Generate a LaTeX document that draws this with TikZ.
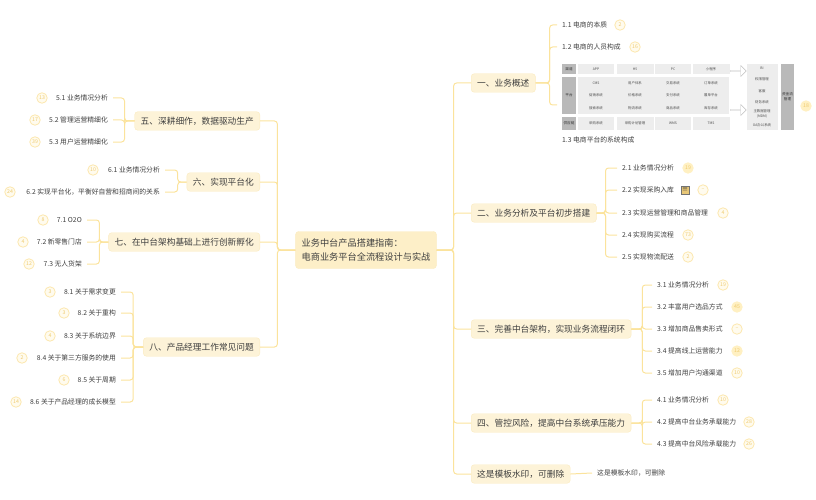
\documentclass[tikz,border=0pt]{standalone}
\usepackage{fontspec}
\setmainfont{Noto Sans CJK SC}
\usetikzlibrary{shapes.arrows}
\definecolor{linkcol}{HTML}{FBE39C}
\definecolor{boxfill}{HTML}{FDF3D8}
\definecolor{boxline}{HTML}{FBEBC0}
\definecolor{rootfill}{HTML}{FDEFC8}
\definecolor{inkcol}{HTML}{3E3E3E}
\definecolor{numcol}{HTML}{EFCB70}
\definecolor{ringcol}{HTML}{FCE7AE}
\definecolor{softfill}{HTML}{FFFBEE}
\definecolor{hotfill}{HTML}{FFF0C2}
\definecolor{notefill}{HTML}{E8C777}
\definecolor{cellfill}{HTML}{EDEDED}
\definecolor{barfill}{HTML}{B9B9B9}
\tikzset{
  every edge/.style={draw=linkcol,line width=1pt,rounded corners=3pt},
  elbow/.style={to path={-- ++(#1,0) |- (\tikztotarget)}},
  rootbox/.style={draw=boxline,fill=rootfill,rounded corners=3pt,align=left,text=inkcol,
    inner xsep=6pt,minimum height=37pt,font=\fontsize{9.2}{14}\selectfont},
  branch/.style={draw=boxline,fill=boxfill,rounded corners=3pt,text=inkcol,
    inner xsep=6pt,inner ysep=0pt,minimum height=18.5pt,font=\fontsize{8.7}{10}\selectfont},
  leafr/.style={anchor=west,text=inkcol,inner xsep=5pt,inner ysep=1pt,font=\fontsize{6.8}{8}\selectfont},
  leafl/.style={anchor=east,text=inkcol,inner xsep=5pt,inner ysep=1pt,font=\fontsize{6.8}{8}\selectfont},
  count/.style={circle,draw=ringcol,line width=0.8pt,fill=softfill,text=numcol,inner sep=0pt,minimum size=10.5pt,font=\fontsize{5.2}{5}\selectfont},
  hot/.style={fill=hotfill,draw=hotfill},
  cell/.style={fill=cellfill,text=black!70,inner sep=0pt,align=center,font=\fontsize{3.4}{5}\selectfont},
  graycell/.style={fill=barfill,text=black!80,inner sep=0pt,align=center,font=\fontsize{3.6}{5}\selectfont},
  plain/.style={text=black!70,inner sep=0pt,align=center,font=\fontsize{3.4}{5}\selectfont},
  hollow/.style={single arrow,draw=black!25,fill=white,minimum width=11pt,minimum height=16pt,
    single arrow head extend=2pt,inner sep=0pt},
}
\begin{document}
\begin{tikzpicture}[x=1pt,y=-1pt]

  \useasboundingbox (0,0) rectangle (816,500);

  \node[rootbox] (root) at (366,250) {业务中台产品搭建指南：\\电商业务平台全流程设计与实战};

  % branches
  \begin{scope}[every node/.style={branch}]
    \node[anchor=west] (b1) at (471,83)  {一、业务概述};
    \node[anchor=west] (b2) at (471,213) {二、业务分析及平台初步搭建};
    \node[anchor=west] (b3) at (471,329) {三、完善中台架构，实现业务流程闭环};
    \node[anchor=west] (b4) at (471,423) {四、管控风险，提高中台系统承压能力};
    \node[anchor=west] (b9) at (471,474) {这是模板水印，可删除};
    \node[anchor=east] (b5) at (260,121) {五、深耕细作，数据驱动生产};
    \node[anchor=east] (b6) at (260,182) {六、实现平台化};
    \node[anchor=east] (b7) at (260,242) {七、在中台架构基础上进行创新孵化};
    \node[anchor=east] (b8) at (260,347) {八、产品经理工作常见问题};
  \end{scope}

  % right leaves
  \begin{scope}[every node/.style={leafr}]
    \node (l11) at (557,25)  {1.1 电商的本质};
    \node (l12) at (557,47)  {1.2 电商的人员构成};
    \node (l21) at (617,168) {2.1 业务情况分析};
    \node (l22) at (617,190) {2.2 实现采购入库};
    \node (l23) at (617,213) {2.3 实现运营管理和商品管理};
    \node (l24) at (617,235) {2.4 实现购买流程};
    \node (l25) at (617,257) {2.5 实现物流配送};
    \node (l31) at (652,285) {3.1 业务情况分析};
    \node (l32) at (652,307) {3.2 丰富用户选品方式};
    \node (l33) at (652,329) {3.3 增加商品售卖形式};
    \node (l34) at (652,351) {3.4 提高线上运营能力};
    \node (l35) at (652,373) {3.5 增加用户沟通渠道};
    \node (l41) at (652,400) {4.1 业务情况分析};
    \node (l42) at (652,422) {4.2 提高中台业务承载能力};
    \node (l43) at (652,444) {4.3 提高中台风险承载能力};
    \node (l91) at (592,473) {这是模板水印，可删除};
  \end{scope}

  % left leaves
  \begin{scope}[every node/.style={leafl}]
    \node (l51) at (113,98)  {5.1 业务情况分析};
    \node (l52) at (113,120) {5.2 管理运营精细化};
    \node (l53) at (113,142) {5.3 用户运营精细化};
    \node (l61) at (165,170) {6.1 业务情况分析};
    \node (l62) at (165,192) {6.2 实现平台化，平衡好自营和招商间的关系};
    \node (l71) at (87,220)  {7.1 O2O};
    \node (l72) at (87,242)  {7.2 新零售门店};
    \node (l73) at (87,264)  {7.3 无人货架};
    \node (l81) at (121,292) {8.1 关于需求变更};
    \node (l82) at (121,313) {8.2 关于重构};
    \node (l83) at (121,336) {8.3 关于系统边界};
    \node (l84) at (121,358) {8.4 关于第三方服务的使用};
    \node (l85) at (121,380) {8.5 关于周期};
    \node (l86) at (121,402) {8.6 关于产品经理的成长模型};
  \end{scope}

  % counts
  \begin{scope}[every node/.style={count}]
    \node (n11) at (620,25)  {2};
    \node (n12) at (635,47)  {16};
    \node[hot] (n13) at (806,106) {18};
    \node[hot] (n21) at (688,168) {19};
    \node (n22) at (703,190) {--};
    \node (n23) at (723,213) {4};
    \node (n24) at (688,235) {73};
    \node (n25) at (688,257) {2};
    \node (n31) at (723,285) {19};
    \node[hot] (n32) at (737,307) {45};
    \node (n33) at (737,329) {--};
    \node[hot] (n34) at (737,351) {12};
    \node (n35) at (737,373) {10};
    \node (n41) at (723,400) {10};
    \node (n42) at (749,422) {28};
    \node (n43) at (749,444) {26};
    \node (n51) at (42,98)   {13};
    \node (n52) at (35,120)  {17};
    \node (n53) at (35,142)  {39};
    \node (n61) at (93,170)  {10};
    \node (n62) at (10,192)  {24};
    \node (n71) at (43,220)  {8};
    \node (n72) at (23,242)  {4};
    \node (n73) at (29,264)  {12};
    \node (n81) at (50,292)  {3};
    \node (n82) at (64,313)  {3};
    \node (n83) at (50,336)  {4};
    \node (n84) at (22,358)  {2};
    \node (n85) at (64,380)  {6};
    \node (n86) at (16,402)  {14};
  \end{scope}

  % note icon
  \node[draw=black!55,fill=notefill,text=black!80,inner sep=0pt,minimum size=8pt,font=\fontsize{6}{6}\selectfont]
    (note) at (685,190) {≡};

  % system table
  \begin{scope}[every node/.style={cell}]
    \node[minimum width=36pt,minimum height=10pt] (t12) at (596,69) {APP};
    \node[minimum width=37pt,minimum height=10pt] (t13) at (635,69) {H5};
    \node[minimum width=36pt,minimum height=10pt] (t14) at (673,69) {PC};
    \node[minimum width=37pt,minimum height=10pt] (t15) at (711,69) {小程序};
    \node[minimum width=151pt,minimum height=37pt] (t2) at (653.5,95.5) {};
    \node[minimum width=36pt,minimum height=13pt] (t32) at (596,123.5) {采购系统};
    \node[minimum width=37pt,minimum height=13pt] (t33) at (635,123.5) {采购计划管理};
    \node[minimum width=36pt,minimum height=13pt] (t34) at (673,123.5) {WMS};
    \node[minimum width=37pt,minimum height=13pt] (t35) at (711,123.5) {TMS};
    \node[minimum width=31pt,minimum height=66pt] (side) at (762.5,97) {};
  \end{scope}

  \begin{scope}[every node/.style={graycell}]
    \node[minimum width=14pt,minimum height=10pt] (t11) at (569,69) {渠道};
    \node[minimum width=14pt,minimum height=37pt] (t21) at (569,95.5) {平台};
    \node[minimum width=14pt,minimum height=13pt] (t31) at (569,123.5) {供应链};
    \node[minimum width=13pt,minimum height=66pt] (bar) at (787.5,97) {资金流\\管理};
  \end{scope}

  \begin{scope}[every node/.style={plain}]
    \node (c1) at (596,83)  {CMS};
    \node (c2) at (635,83)  {用户体系};
    \node (c3) at (673,83)  {交易系统};
    \node (c4) at (711,83)  {订单系统};
    \node (d1) at (596,95)  {促销系统};
    \node (d2) at (635,95)  {价格系统};
    \node (d3) at (673,95)  {支付系统};
    \node (d4) at (711,95)  {履单平台};
    \node (e1) at (596,108) {搜索系统};
    \node (e2) at (635,108) {物流系统};
    \node (e3) at (673,108) {商品系统};
    \node (e4) at (711,108) {库存系统};
    \node (s1) at (762,68)  {BI};
    \node (s2) at (762,79)  {权限管理};
    \node (s3) at (762,91)  {客服};
    \node (s4) at (762,102) {财务系统};
    \node (s5) at (762,113.5) {主数据管理\\(MDM)};
    \node (s6) at (762,125) {OA办公系统};
  \end{scope}

  \node[hollow] (a1) at (738,71)  {};
  \node[hollow] (a2) at (738,110) {};

  \node[leafr] (l13) at (557,140) {1.3 电商平台的系统构成};
  \coordinate (tbl) at (557,105);

  % root to branches
  \path (root.east) edge[elbow=17] (b1.west);
  \path (root.east) edge[elbow=17] (b2.west);
  \path (root.east) edge[elbow=17] (b3.west);
  \path (root.east) edge[elbow=17] (b4.west);
  \path (root.east) edge[elbow=17] (b9.west);
  \path (root.west) edge[elbow=-18] (b5.east);
  \path (root.west) edge[elbow=-18] (b6.east);
  \path (root.west) edge[elbow=-18] (b7.east);
  \path (root.west) edge[elbow=-18] (b8.east);

  % branches to leaves
  \path (b1.east) edge[elbow=14] (l11.west);
  \path (b1.east) edge[elbow=14] (l12.west);
  \path (b1.east) edge[elbow=14] (tbl);
  \path (b2.east) edge[elbow=9] (l21.west);
  \path (b2.east) edge[elbow=9] (l22.west);
  \path (b2.east) edge[elbow=9] (l23.west);
  \path (b2.east) edge[elbow=9] (l24.west);
  \path (b2.east) edge[elbow=9] (l25.west);
  \path (b3.east) edge[elbow=11] (l31.west);
  \path (b3.east) edge[elbow=11] (l32.west);
  \path (b3.east) edge[elbow=11] (l33.west);
  \path (b3.east) edge[elbow=11] (l34.west);
  \path (b3.east) edge[elbow=11] (l35.west);
  \path (b4.east) edge[elbow=11] (l41.west);
  \path (b4.east) edge[elbow=11] (l42.west);
  \path (b4.east) edge[elbow=11] (l43.west);
  \path (b9.east) edge (l91.west);
  \path (b5.west) edge[elbow=-10] (l51.east);
  \path (b5.west) edge[elbow=-10] (l52.east);
  \path (b5.west) edge[elbow=-10] (l53.east);
  \path (b6.west) edge[elbow=-9] (l61.east);
  \path (b6.west) edge[elbow=-9] (l62.east);
  \path (b7.west) edge[elbow=-9] (l71.east);
  \path (b7.west) edge[elbow=-9] (l72.east);
  \path (b7.west) edge[elbow=-9] (l73.east);
  \path (b8.west) edge[elbow=-10] (l81.east);
  \path (b8.west) edge[elbow=-10] (l82.east);
  \path (b8.west) edge[elbow=-10] (l83.east);
  \path (b8.west) edge[elbow=-10] (l84.east);
  \path (b8.west) edge[elbow=-10] (l85.east);
  \path (b8.west) edge[elbow=-10] (l86.east);

\end{tikzpicture}
\end{document}
